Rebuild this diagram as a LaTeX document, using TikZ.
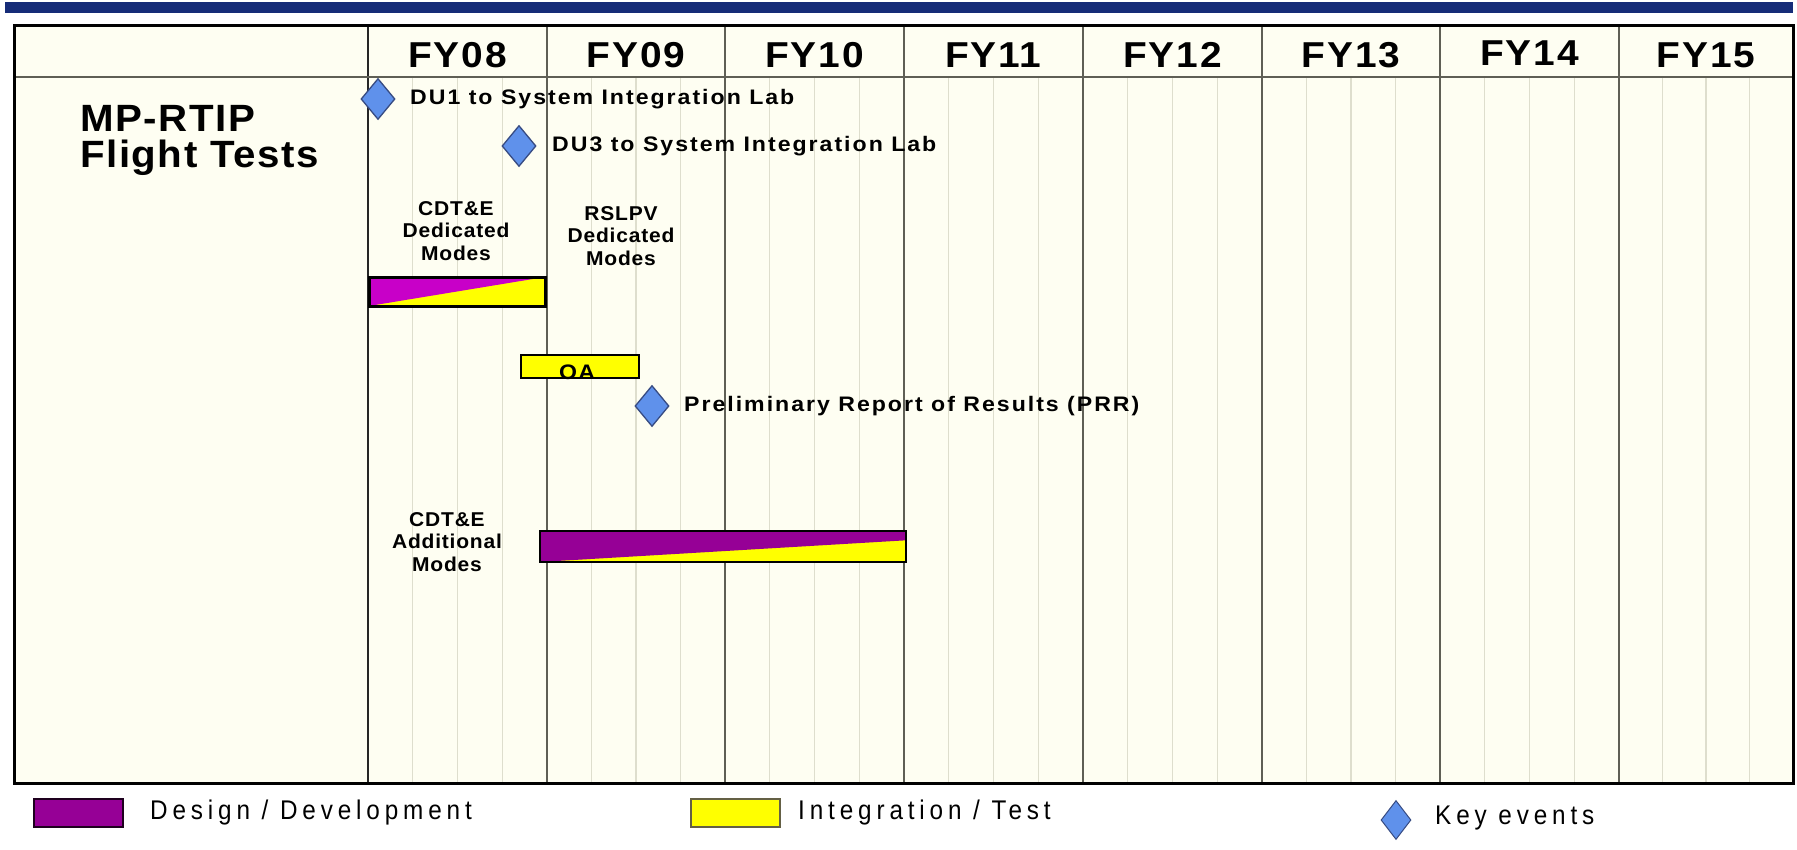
\documentclass[tikz,border=0pt]{standalone}
\usepackage{fontspec}
\setmainfont{Liberation Sans}
\usetikzlibrary{shapes.geometric,calc}

\definecolor{frameback}{RGB}{254,254,242}
\definecolor{headblue}{RGB}{22,44,120}
\definecolor{majorgrid}{RGB}{95,95,85}
\definecolor{minorgrid}{RGB}{222,222,205}
\definecolor{devmagenta}{RGB}{200,0,200}
\definecolor{devpurple}{RGB}{150,0,150}
\definecolor{testyellow}{RGB}{255,255,0}
\definecolor{eventblue}{RGB}{95,145,235}
\definecolor{eventedge}{RGB}{55,75,130}

\tikzset{
  yearlabel/.style={font=\bfseries\fontsize{36}{40}\selectfont\addfontfeature{FakeStretch=1.08,LetterSpace=5}, inner sep=0},
  titlelabel/.style={font=\bfseries\fontsize{38}{36}\selectfont\addfontfeature{FakeStretch=1.06,LetterSpace=4}, align=left, anchor=west, inner sep=0},
  eventlabel/.style={font=\bfseries\fontsize{21}{24}\selectfont\addfontfeature{FakeStretch=1.1,LetterSpace=9.5}, anchor=west, inner sep=0},
  phaselabel/.style={font=\bfseries\fontsize{20}{22.5}\selectfont\addfontfeature{FakeStretch=1.05,LetterSpace=4}, align=center, inner sep=0},
  legendlabel/.style={font=\fontsize{27}{30}\selectfont\addfontfeature{FakeStretch=0.9,LetterSpace=18}, anchor=west, inner sep=0},
  keyevent/.style={diamond, draw=eventedge, line width=1.3pt, fill=eventblue, minimum width=34pt, minimum height=41pt, inner sep=0},
  barbox/.style={rectangle, draw=black, inner sep=0},
}

\begin{document}
\begin{tikzpicture}[x=1pt,y=-1pt]
\useasboundingbox (0,0) rectangle (1797,849);
\fill[white] (0,0) rectangle (1797,849);

% heading rule
\fill[headblue] (5,2) rectangle (1793,13);

% chart background
\fill[frameback] (14,25) rectangle (1793,783);

% quarter grid lines inside each fiscal year
\foreach \a/\b in {368/547,547/725,725/904,904/1083,1083/1262,1262/1440,1440/1619,1619/1793}{
  \foreach \k in {1,2,3}{
    \pgfmathsetmacro\qx{\a+\k*(\b-\a)/4}
    \draw[minorgrid, line width=1.2pt] (\qx,78) -- (\qx,782);
  }
}
% year separators
\foreach \a in {547,725,904,1083,1262,1440,1619}{
  \draw[majorgrid, line width=1.6pt] (\a,25) -- (\a,783);
}
\draw[black!85, line width=1.8pt] (368,25) -- (368,783);
\draw[majorgrid, line width=2pt] (14,77) -- (1793,77);
\draw[black, line width=3pt] (14,25) rectangle (1793,783);

% fiscal year headings
\node[yearlabel] (fy08) at (457.5,55) {FY08};
\node[yearlabel] (fy09) at (636,55) {FY09};
\node[yearlabel] (fy10) at (814.5,55) {FY10};
\node[yearlabel] (fy11) at (993.5,55) {FY11};
\node[yearlabel] (fy12) at (1172.5,55) {FY12};
\node[yearlabel] (fy13) at (1351,55) {FY13};
\node[yearlabel] (fy14) at (1529.5,53) {FY14};
\node[yearlabel] (fy15) at (1706,55) {FY15};

% row title
\node[titlelabel] (title) at (80,140) {MP-RTIP\\Flight Tests};

% key events
\node[keyevent] (du1) at (378,99) {};
\node[eventlabel] (du1txt) at (410,99) {DU1 to System Integration Lab};
\node[keyevent] (du3) at (519,146) {};
\node[eventlabel] (du3txt) at (552,146) {DU3 to System Integration Lab};
\node[keyevent] (prr) at (652,406) {};
\node[eventlabel] (prrtxt) at (684,406) {Preliminary Report of Results (PRR)};

% phase labels
\node[phaselabel] (cdtdelbl) at (456,231) {CDT\&E\\Dedicated\\Modes};
\node[phaselabel] (rslpvlbl) at (621,236) {RSLPV\\Dedicated\\Modes};
\node[phaselabel] (addlbl) at (447,542) {CDT\&E\\Additional\\Modes};

% activity bars
\node[barbox, line width=3pt, minimum width=176pt, minimum height=29pt,
  path picture={
    \fill[testyellow] (path picture bounding box.south west) rectangle (path picture bounding box.north east);
    \fill[devmagenta] (path picture bounding box.south west) -- (path picture bounding box.north west) -- (path picture bounding box.north east) -- cycle;
  }] (cdtdebar) at (457,291.5) {};
\node[barbox, line width=1.5pt, fill=testyellow, minimum width=118pt, minimum height=23pt] (oabar) at (580,366.5) {};
\node[font=\bfseries\fontsize{21}{24}\selectfont\addfontfeature{FakeStretch=1.1,LetterSpace=6}, anchor=base, inner sep=0] (oatxt) at (577,379) {OA};
\node[barbox, line width=1.5pt, minimum width=366pt, minimum height=31pt,
  path picture={
    \fill[testyellow] (path picture bounding box.south west) rectangle (path picture bounding box.north east);
    \fill[devpurple] (path picture bounding box.south west) -- (path picture bounding box.north west) -- (path picture bounding box.north east) -- ($(path picture bounding box.north east)!0.3!(path picture bounding box.south east)$) -- cycle;
  }] (addbar) at (723,546.5) {};

% legend
\node[rectangle, draw=black!80!devpurple, line width=1.5pt, fill=devpurple, minimum width=89pt, minimum height=28pt] (legdev) at (78.5,813) {};
\node[legendlabel] (legdevtxt) at (150,813) {Design / Development};
\node[rectangle, draw=black!70!yellow, line width=1.5pt, fill=testyellow, minimum width=89pt, minimum height=28pt] (legtest) at (735.5,813) {};
\node[legendlabel] (legtesttxt) at (798,813) {Integration / Test};
\node[keyevent, line width=1pt, minimum width=30pt, minimum height=39pt] (legkey) at (1396,820) {};
\node[legendlabel] (legkeytxt) at (1435,818) {Key events};
\end{tikzpicture}
\end{document}
